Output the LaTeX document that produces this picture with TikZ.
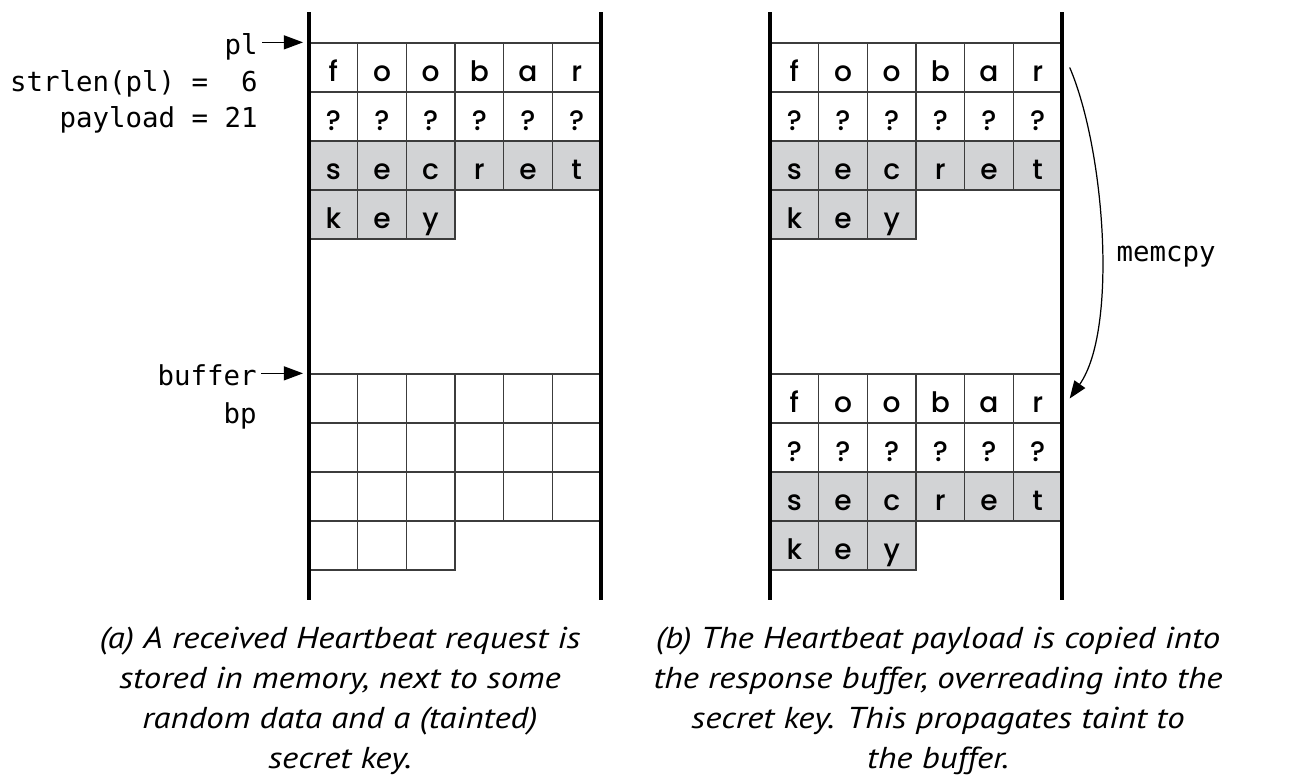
\documentclass[tikz,border=0pt]{standalone}
\usepackage{fontspec}
\newfontfamily\cellfont{Poppins Medium}
\newfontfamily\codefont{DejaVu Sans Mono}
\newfontfamily\capfont{PT Sans}[FakeStretch=1.15]
\usepackage{tikz}
\usetikzlibrary{arrows.meta, positioning, calc}

\definecolor{keygray}{RGB}{210,211,213}
\definecolor{gridline}{RGB}{60,60,60}

% heap bytes: #1 name prefix, #2 left x, #3 top y
\newcommand{\datablock}[3]{%
  \foreach \row/\tone/\chars in {1/white/{f,o,o,b,a,r}, 2/white/{?,?,?,?,?,?},
                                 3/keygray/{s,e,c,r,e,t}, 4/keygray/{k,e,y}} {
    \foreach \byte [count=\col] in \chars {
      \node[cell, fill=\tone] (#1-\row-\col) at ({#2+48.67*(\col-0.5)}, {#3+49*(\row-0.5)}) {\byte};
    }
  }}
\newcommand{\emptyblock}[3]{%
  \foreach \row/\ncols in {1/6, 2/6, 3/6, 4/3} {
    \foreach \col in {1,...,\ncols} {
      \node[cell] (#1-\row-\col) at ({#2+48.67*(\col-0.5)}, {#3+49*(\row-0.5)}) {};
    }
  }}

\begin{document}
\begin{tikzpicture}[
  x=0.02cm, y=-0.02cm,
  cell/.style={rectangle, draw=gridline, line width=0.75pt, inner sep=0pt,
               minimum width=0.9734cm, minimum height=0.98cm,
               text height=15.5pt, text depth=0pt,
               font=\cellfont\fontsize{16}{18}\selectfont},
  bar/.style={line width=2.8pt},
  code/.style={font=\codefont\fontsize{15.6}{18}\selectfont, inner sep=0pt},
  ptr/.style={-{Triangle[length=11pt, width=8pt]}, line width=0.8pt,
              shorten <=2.5pt, shorten >=3pt},
  copyarrow/.style={-{Triangle[length=10pt, width=7.5pt]}, line width=0.7pt},
  caption/.style={font=\capfont\itshape\fontsize{17.2}{22.7}\selectfont,
                  align=center, inner sep=0pt},
]
\useasboundingbox (0,0) rectangle (1295,779);

% ---- (a) request in memory ----
\datablock{reqa}{309}{43}
\emptyblock{bufa}{309}{374}
\draw[bar] (309,12) -- (309,600);
\draw[bar] (601,12) -- (601,600);

\node[code, anchor=base east] (pl)      at (258,54)  {pl};
\node[code, anchor=base east] (strlen)  at (258,91)  {strlen(pl) =\ \ 6};
\node[code, anchor=base east] (payload) at (258,127) {payload = 21};
\node[code, anchor=base east] (buffer)  at (257,385) {buffer};
\node[code, anchor=base east] (bp)      at (257,423) {bp};

\draw[ptr] (pl.east |- reqa-1-1.north west) -- (reqa-1-1.north west);
\draw[ptr] (buffer.east |- bufa-1-1.north west) -- (bufa-1-1.north west);

% ---- (b) after memcpy ----
\datablock{reqb}{770}{43}
\datablock{bufb}{770}{374}
\draw[bar] (770,12) -- (770,600);
\draw[bar] (1062,12) -- (1062,600);

\draw[copyarrow] ([xshift=4pt]reqb-1-6.east) .. controls (1105,150) and (1118,330) .. ([xshift=4pt]bufb-1-6.east);
\node[code, anchor=base] (memcpy) at (1166,261) {memcpy};

% ---- captions ----
\node[caption, anchor=north] (capa) at (340,627)
  {(a) A received Heartbeat request is\\ stored in memory, next to some\\
   random data and a (tainted)\\ secret key.};
\node[caption, anchor=north] (capb) at (938,627)
  {(b) The Heartbeat payload is copied into\\ the response buffer, overreading into the\\
   secret key. This propagates taint to\\ the buffer.};

\end{tikzpicture}
\end{document}
